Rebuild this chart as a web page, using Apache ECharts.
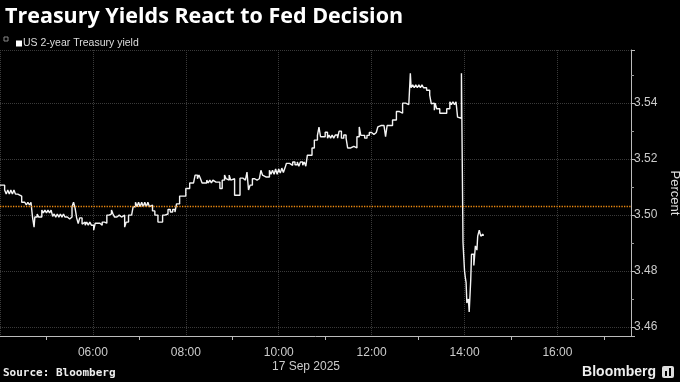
<!DOCTYPE html>
<html>
<head>
<meta charset="utf-8">
<script src="https://cdn.jsdelivr.net/npm/echarts@6/dist/echarts.min.js"></script>
<style>
html,body{margin:0;padding:0;background:#000;}
#chart{width:680px;height:382px;}
</style>
</head>
<body>
<div id="chart"></div>
<script>
const chartTitle = 'Treasury Yields React to Fed Decision';
const seriesName = 'US 2-year Treasury yield';
const dateLabel = '17 Sep 2025';
const sourceText = 'Source: Bloomberg';
const previousClose = 3.503;

const times = [
'04:00','04:03','04:06','04:08','04:10','04:12','04:14','04:16','04:18','04:20','04:23','04:28','04:32','04:34','04:36','04:38','04:40','04:42','04:44','04:45','04:48','04:50','04:52','04:54','04:56','04:58','05:00','05:02','05:04','05:06','05:08','05:10','05:12','05:14','05:16','05:18','05:20','05:22','05:24','05:27','05:30','05:33','05:35','05:37','05:39','05:41','05:43','05:46','05:48','05:50','05:52','05:54','05:56','05:58','06:01','06:03','06:06','06:09','06:12','06:15','06:18','06:21','06:24','06:26','06:28','06:31','06:34','06:37','06:41','06:43','06:46','06:50','06:52','06:55','06:57','06:59','07:01','07:03','07:05','07:07','07:09','07:11','07:13','07:15','07:17','07:20','07:24','07:27','07:30','07:33','07:37','07:40','07:43','07:46','07:48','07:52','07:56','08:00','08:05','08:10','08:12','08:15','08:17','08:19','08:21','08:24','08:27','08:29','08:31','08:33','08:35','08:37','08:39','08:41','08:44','08:47','08:50','08:52','08:54','08:56','08:58','09:00','09:03','09:07','09:10','09:14','09:17','09:19','09:21','09:23','09:26','09:29','09:32','09:35','09:37','09:39','09:41','09:44','09:46','09:48','09:50','09:52','09:54','09:56','09:58','10:00','10:02','10:04','10:06','10:08','10:10','10:14','10:18','10:21','10:24','10:26','10:28','10:31','10:33','10:35','10:37','10:43','10:46','10:50','10:52','10:54','10:57','11:00','11:03','11:05','11:07','11:09','11:11','11:13','11:16','11:18','11:21','11:24','11:27','11:29','11:33','11:37','11:41','11:44','11:46','11:48','11:51','11:54','11:57','12:00','12:03','12:06','12:08','12:10','12:12','12:14','12:16','12:18','12:20','12:24','12:27','12:32','12:36','12:40','12:44','12:48','12:50','12:51','12:53','12:55','12:57','12:59','13:01','13:03','13:05','13:07','13:11','13:15','13:17','13:19','13:21','13:22','13:24','13:28','13:37','13:41','13:43','13:45','13:47','13:49','13:51','13:53','13:56','13:58','13:59','14:00','14:01','14:02','14:03','14:05','14:06','14:08','14:09','14:11','14:12','14:14','14:16','14:17','14:19','14:21','14:23','14:24'
];

const yields = [
3.5107,3.5107,3.509,3.5075,3.509,3.5075,3.509,3.5075,3.509,3.5075,3.5068,3.5046,3.5046,3.5036,3.5046,3.5036,3.5046,3.4993,3.4957,3.4993,3.5004,3.4993,3.4993,3.5018,3.5008,3.5018,3.5008,3.5018,3.5008,3.5018,3.4996,3.5004,3.4993,3.5004,3.4993,3.5004,3.4993,3.5004,3.4993,3.4986,3.4993,3.503,3.5046,3.5025,3.499,3.497,3.499,3.4968,3.4975,3.4964,3.4975,3.4964,3.4975,3.4964,3.4946,3.4971,3.4971,3.4964,3.4975,3.4971,3.5,3.5004,3.5018,3.5004,3.4993,3.5,3.4993,3.5,3.4957,3.4975,3.5,3.5,3.503,3.5046,3.503,3.5046,3.503,3.5046,3.503,3.5046,3.503,3.5046,3.503,3.5036,3.5015,3.5,3.4975,3.4975,3.5,3.5004,3.502,3.5011,3.502,3.5011,3.504,3.5068,3.5068,3.5095,3.5115,3.5115,3.5143,3.513,3.5143,3.513,3.5115,3.5115,3.5125,3.5115,3.5125,3.5115,3.5125,3.5118,3.5125,3.5118,3.5095,3.5125,3.5143,3.513,3.5125,3.5143,3.5125,3.513,3.5071,3.5071,3.5132,3.5125,3.5132,3.5154,3.509,3.5107,3.513,3.5125,3.513,3.5125,3.516,3.5143,3.5136,3.5143,3.5136,3.516,3.5146,3.516,3.5146,3.5165,3.5146,3.5165,3.515,3.5168,3.5152,3.5168,3.5185,3.5178,3.519,3.518,3.519,3.5175,3.519,3.5178,3.519,3.5175,3.5214,3.524,3.5268,3.5285,3.5314,3.528,3.528,3.5296,3.5275,3.5286,3.5275,3.5286,3.5275,3.5286,3.5275,3.53,3.5275,3.5286,3.5275,3.524,3.5246,3.524,3.528,3.5315,3.5285,3.5285,3.5275,3.5285,3.5295,3.5288,3.5295,3.5288,3.5315,3.532,3.5315,3.532,3.5315,3.528,3.532,3.532,3.534,3.537,3.5364,3.54,3.5395,3.54,3.5507,3.5455,3.5466,3.5455,3.5466,3.5455,3.5466,3.5455,3.5466,3.5455,3.5446,3.5429,3.5398,3.54,3.5375,3.54,3.538,3.5364,3.538,3.5405,3.5395,3.5405,3.5395,3.5405,3.535,3.5346,3.5507,3.4904,3.485,3.48,3.4777,3.476,3.4686,3.47,3.4654,3.4768,3.486,3.486,3.482,3.489,3.4875,3.4925,3.4946,3.4925,3.4932,3.4925
];

function toMin(t){ const p = t.split(':'); return (+p[0])*60 + (+p[1]); }
function fmt(m){ const h = Math.floor(m/60), mm = Math.round(m%60); return String(h).padStart(2,'0')+':'+String(mm).padStart(2,'0'); }

const data = times.map((t,i)=>[toMin(t), yields[i]]);

const chart = echarts.init(document.getElementById('chart'), null, {renderer:'canvas'});
const FONT = 'Liberation Sans';
chart.setOption({
  backgroundColor:'#000',
  animation:false,
  title:{
    text: chartTitle, left:0, top:1,
    textStyle:{color:'#fff', fontSize:21.5, fontWeight:'bold', fontFamily:'Open Sans'}
  },
  legend:{
    data:[{name:seriesName, icon:'rect'}],
    left:11, top:33, itemWidth:6, itemHeight:6, itemGap:4,
    textStyle:{color:'#ddd', fontSize:10.5, fontFamily:FONT, padding:[0,0,0,-4]}
  },
  grid:{left:0, right:49, top:50, bottom:46, containLabel:false, outerBoundsMode:'none'},
  xAxis:{
    type:'value', min:240, max:1055, interval:120,
    axisLine:{show:true, lineStyle:{color:'#bbb', width:1}},
    axisTick:{show:false},
    minorTick:{show:true, splitNumber:2, length:4, lineStyle:{color:'#bbb'}},
    axisLabel:{color:'#ccc', fontSize:12, fontFamily:FONT, margin:11, showMinLabel:false, showMaxLabel:false, formatter:v=>fmt(v)},
    splitLine:{show:true, lineStyle:{color:'#3a3a3a', type:'dotted', width:1}}
  },
  yAxis:{
    type:'value', position:'right', min:3.4568, max:3.559, splitNumber:5, scale:true,
    name:'Percent', nameLocation:'middle', nameRotate:-90, nameGap:33,
    nameTextStyle:{color:'#ddd', fontSize:13, fontFamily:FONT},
    axisLine:{show:true, lineStyle:{color:'#bbb', width:1}},
    axisTick:{show:true, length:4, lineStyle:{color:'#bbb'}},
    minorTick:{show:true, splitNumber:2, length:3, lineStyle:{color:'#999'}},
    axisLabel:{color:'#ccc', fontSize:12, fontFamily:FONT, margin:3, showMinLabel:false, showMaxLabel:false, formatter:v=>v.toFixed(2)},
    splitLine:{show:true, lineStyle:{color:'#3a3a3a', type:'dotted', width:1}}
  },
  series:[{
    name:seriesName, type:'line', step:'end', data:data,
    showSymbol:false, symbol:'none',
    lineStyle:{color:'#f4f4f4', width:1.4},
    itemStyle:{color:'#fff'},
    markLine:{
      silent:true, symbol:'none', label:{show:false}, precision:4,
      lineStyle:{color:'#ee8a10', type:'dotted', width:1.3},
      data:[{yAxis:previousClose}]
    }
  }],
  graphic:[
    {type:'rect', shape:{x:4, y:37, width:4, height:4}, style:{fill:'none', stroke:'#888', lineWidth:1}},
    {type:'text', x:306, y:361, style:{text:dateLabel, fill:'#ccc', fontSize:12, fontFamily:FONT, align:'center'}},
    {type:'text', x:3, y:368, style:{text:sourceText, fill:'#eee', fontSize:11, fontWeight:'bold', fontFamily:'DejaVu Sans Mono'}},
    {type:'text', x:656, y:365, style:{text:'Bloomberg', fill:'#eee', fontSize:14, fontWeight:'bold', fontFamily:FONT, align:'right'}},
    {type:'rect', shape:{x:662, y:366, width:12, height:12, r:2}, style:{fill:'#ddd'}},
    {type:'rect', shape:{x:665, y:371, width:2, height:5}, style:{fill:'#000'}},
    {type:'rect', shape:{x:669, y:368, width:2, height:8}, style:{fill:'#000'}}
  ]
});
</script>
</body>
</html>
